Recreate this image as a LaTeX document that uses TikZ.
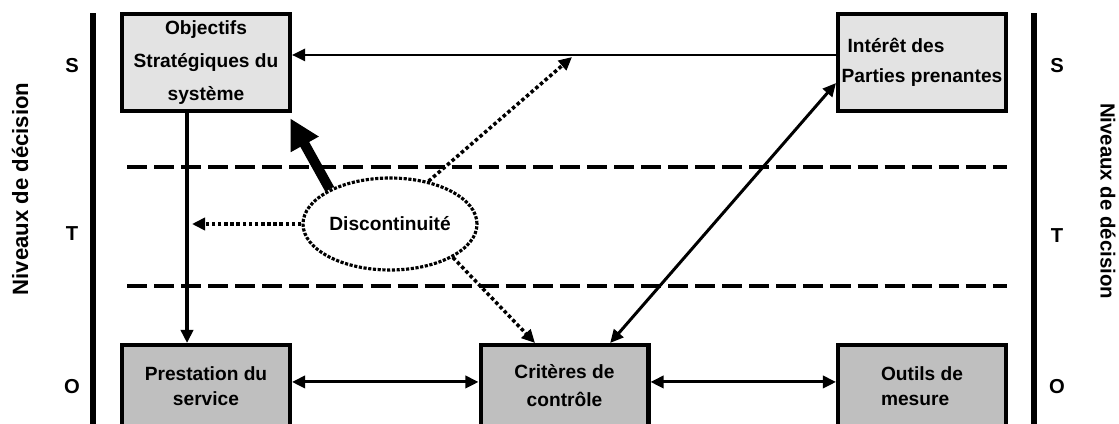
\documentclass[tikz,border=0pt]{standalone}
\usepackage{fontspec}
\setmainfont{Liberation Sans}
\usetikzlibrary{arrows.meta,shapes.geometric}
\newcommand\police[1]{\fontsize{10.9}{#1}\selectfont\bfseries}
\tikzset{
  haut/.style={draw, line width=2.3pt, fill=black!11, minimum width=3.36cm, minimum height=1.94cm, inner sep=0pt},
  bas/.style={draw, line width=2.3pt, fill=black!25, minimum width=3.36cm, minimum height=1.64cm, inner sep=0pt},
  fleche/.style={line width=1.2pt, -{Triangle[length=7.5pt,width=7pt]}},
  dblfleche/.style={line width=1.7pt, {Triangle[length=7.5pt,width=7pt]}-{Triangle[length=7.5pt,width=7pt]}},
  pointille/.style={line width=2pt, dash pattern=on 2pt off 1.5pt, -{Triangle[length=7.5pt,width=7pt]}},
  grosse/.style={line width=5.7pt, -{Triangle[length=17pt,width=17pt]}},
  palier/.style={line width=2.8pt, dash pattern=on 11.4pt off 4pt},
  barre/.style={line width=3.4pt},
  niveau/.style={font=\fontsize{11.5}{13}\selectfont\bfseries, inner sep=0pt}
}

\begin{document}
\begin{tikzpicture}[x=0.02cm, y=-0.02cm]
			%%%%% START %%%%%
			\useasboundingbox (0,0) rectangle (1119,423);
			
			\draw[barre] (93,13) -- (93,430);
			\draw[barre] (1034,13) -- (1034,430);
			
			\draw[palier] (127,167) -- (1007,167);
			\draw[palier] (127,286) -- (1007,286);
			
			\node[niveau] (sG) at (72,66) {S};
			\node[niveau] (tG) at (72,234) {T};
			\node[niveau] (oG) at (72,387) {O};
			\node[niveau] (sD) at (1057,66) {S};
			\node[niveau] (tD) at (1057,236) {T};
			\node[niveau] (oD) at (1057,387) {O};
			
			\node[font=\fontsize{12.6}{15}\selectfont\bfseries, rotate=90] (nivG) at (20,189) {Niveaux de décision};
			\node[font=\fontsize{11.6}{14}\selectfont\bfseries, rotate=-90] (nivD) at (1108,201) {Niveaux de décision};
			
			\node[haut, align=center, font=\police{18.8}] (obj) at (206,62.5) {Objectifs\\Stratégiques du\\système};
			\node[haut, align=left, font=\police{17}] (int) at (922,62.5) {\hspace*{3.4pt}Intérêt des\\Parties prenantes};
			
			\node[bas, align=center, font=\police{14.2}] (pre) at (206,386) {Prestation du\\service};
			\node[bas, align=center, font=\police{16}] (cri) at (564.5,386) {Critères de\\contrôle};
			\node[bas, align=left, font=\police{14.2}] (out) at (922,386) {Outils de\\mesure};
			
			\node[ellipse, draw, line width=1.8pt, dash pattern=on 1.8pt off 0.9pt, minimum width=3.48cm, minimum height=1.84cm, inner sep=0pt, font=\police{13}] (disc) at (390,224) {Discontinuité};
			
			\coordinate (tL) at (192,224);
			\coordinate (tH) at (572,57);
			
			\draw[fleche] ([yshift=4.3pt]int.west) -- ([yshift=4.3pt]obj.east);
			\draw[fleche, line width=2pt] ([xshift=-10.8pt]obj.south) -- ([xshift=-10.8pt]pre.north);
			\draw[grosse] (disc.150) -- ([xshift=-1pt,yshift=-3pt]obj.south east);
			
			\draw[pointille] (disc.west) -- (tL);
			\draw[pointille] (disc.48.6) -- (tH);
			\draw[pointille] (disc.-28) -- ([xshift=-16.8pt]cri.north);
			
			\draw[dblfleche] ([xshift=26pt]cri.north) -- ([yshift=-11.7pt]int.west);
			\draw[dblfleche] ([yshift=2.3pt]pre.east) -- ([yshift=2.3pt]cri.west);
			\draw[dblfleche] ([yshift=2.3pt]cri.east) -- ([yshift=2.3pt]out.west);
			
			%%%%% END %%%%%
\end{tikzpicture}
\end{document}
